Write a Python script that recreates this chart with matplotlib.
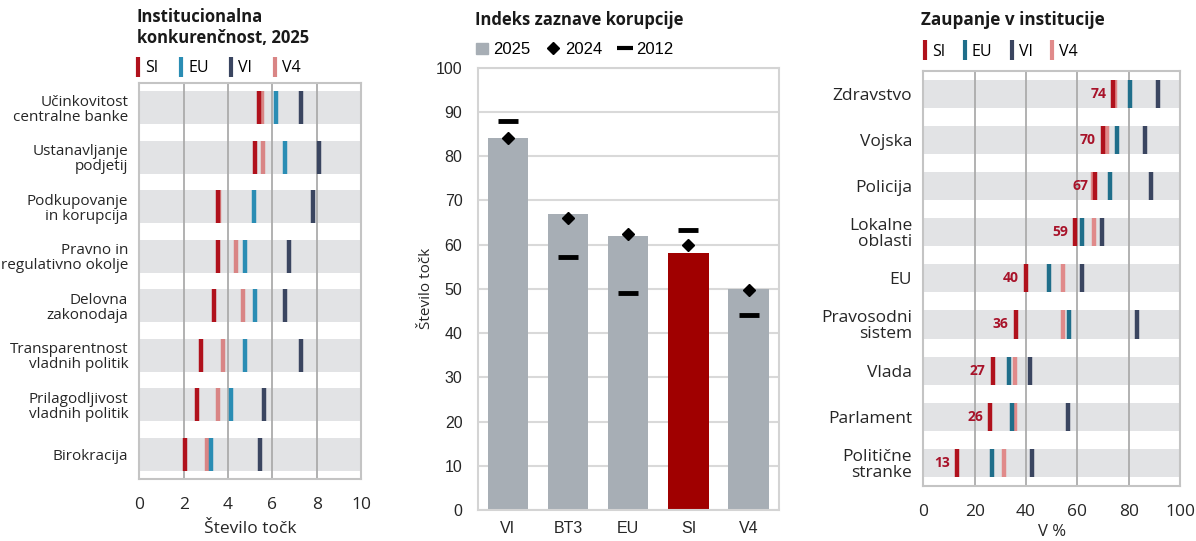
import numpy as np
import matplotlib
matplotlib.use("Agg")
import matplotlib.pyplot as plt
from matplotlib.lines import Line2D
from matplotlib.patches import Patch

# data - left panel (institucionalna konkurencnost)
inst_cats = ["Učinkovitost\ncentralne banke", "Ustanavljanje\npodjetij",
             "Podkupovanje\nin korupcija", "Pravno in\nregulativno okolje",
             "Delovna\nzakonodaja", "Transparentnost\nvladnih politik",
             "Prilagodljivost\nvladnih politik", "Birokracija"]
inst_si = [5.38, 5.23, 3.57, 3.54, 3.36, 2.78, 2.61, 2.04]
inst_eu = [6.16, 6.58, 5.18, 4.76, 5.21, 4.76, 4.14, 3.24]
inst_vi = [7.28, 8.11, 7.85, 6.73, 6.56, 7.27, 5.63, 5.42]
inst_v4 = [5.54, 5.56, 3.60, 4.35, 4.67, 3.77, 3.57, 3.03]

# data - middle panel (indeks zaznave korupcije)
cpi_cats = ["VI", "BT3", "EU", "SI", "V4"]
cpi_2025 = [84, 67, 62, 58, 50]
cpi_2024 = [84, 66, 62.4, 60, 49.8]
cpi_2012 = [88, 57.3, 49, 63.2, 44]

# data - right panel (zaupanje v institucije)
trust_cats = ["Zdravstvo", "Vojska", "Policija", "Lokalne\noblasti", "EU",
              "Pravosodni\nsistem", "Vlada", "Parlament", "Politične\nstranke"]
trust_si = [74, 70, 67, 59, 40, 36, 27, 26, 13]
trust_eu = [80.5, 75.5, 72.6, 61.7, 48.8, 56.7, 33.5, 34.6, 26.7]
trust_vi = [91.4, 86.2, 88.6, 69.6, 61.7, 83.4, 41.5, 56.5, 42.5]
trust_v4 = [74.6, 71.6, 66.1, 66.4, 54.5, 54.3, 35.8, 35.8, 31.6]

FONT = "Open Sans"
plt.rcParams['font.family'] = [FONT, 'DejaVu Sans']
TXT = '#262626'
FRAME = '#C4C4C4'

fig = plt.figure(figsize=(11.96, 5.41), dpi=100)


def style_frame(ax):
    for s in ax.spines.values():
        s.set_color(FRAME)
        s.set_linewidth(1.5)
    ax.tick_params(length=0, colors=TXT)


# strip chart with grey row bands and short vertical markers
def strip_panel(ax, cats, series, xmax, band_h, tick_size):
    ys = np.arange(len(cats))
    ax.barh(ys, xmax, height=band_h, color='#E2E3E5', zorder=0)
    for vals, col in series:
        ax.vlines(vals, ys - band_h / 2, ys + band_h / 2, colors=col, lw=3.2, zorder=3)
    ax.set_xlim(0, xmax)
    ax.set_ylim(len(cats) - 0.5, -0.5)
    ax.set_yticks(ys)
    ax.set_yticklabels(cats, fontsize=tick_size, ha='right', linespacing=1.0)
    ax.grid(axis='x', color='#ABABAB', lw=1.3)
    style_frame(ax)
    ax.tick_params(axis='y', pad=8)
    ax.tick_params(axis='x', pad=13, labelsize=12.5)


def bar_legend(ax, labels, colors, x, y, spacing):
    handles = [Line2D([], [], color=c, marker='|', linestyle='none',
                      markersize=14, markeredgewidth=3) for c in colors]
    ax.legend(handles, labels, loc='center left', bbox_to_anchor=(x, y),
              bbox_transform=fig.transFigure, ncol=len(labels), frameon=False,
              handlelength=0.4, handletextpad=0.25, columnspacing=spacing,
              borderpad=0, borderaxespad=0, fontsize=11.5)


# left panel
ax1 = fig.add_axes([0.1165, 0.1146, 0.1854, 0.732])
c_si, c_eu, c_vi, c_v4 = '#B0111C', '#2A8DB4', '#3A4560', '#D98585'
strip_panel(ax1, inst_cats, [(inst_v4, c_v4), (inst_si, c_si), (inst_eu, c_eu), (inst_vi, c_vi)],
            10, 0.66, 11)
ax1.set_xticks([0, 2, 4, 6, 8, 10])
ax1.set_xlabel("Število točk", fontsize=12.5, color=TXT, labelpad=6)
fig.text(0.1145, 0.985, "Institucionalna\nkonkurenčnost, 2025", fontsize=12,
         fontweight='bold', va='top', ha='left', color='#1A1A1A', linespacing=1.2)
bar_legend(ax1, ["SI", "EU", "VI", "V4"], [c_si, c_eu, c_vi, c_v4], 0.113, 0.874, 1.2)

# middle panel
ax2 = fig.add_axes([0.3994, 0.0573, 0.2517, 0.8176])
xs = np.arange(len(cpi_cats))
bar_cols = ['#A00000' if c == "SI" else '#A7AEB5' for c in cpi_cats]
ax2.bar(xs, cpi_2025, width=0.67, color=bar_cols, zorder=2)
ax2.plot(xs, cpi_2024, linestyle='none', marker='D', markersize=6.5, color='black', zorder=4)
ax2.hlines(cpi_2012, xs - 0.165, xs + 0.165, colors='black', lw=3.5, zorder=4)
ax2.set_xlim(-0.5, len(cpi_cats) - 0.5)
ax2.set_ylim(0, 100)
ax2.set_yticks(range(0, 101, 10))
ax2.set_xticks(xs)
ax2.set_xticklabels(cpi_cats)
ax2.grid(axis='y', color='#D9D9D9', lw=1.5, zorder=0)
ax2.set_axisbelow(True)
style_frame(ax2)
for s in ax2.spines.values():
    s.set_color('#D4D4D4')
for lab in ax2.get_xticklabels() + ax2.get_yticklabels():
    lab.set_fontfamily(['Liberation Sans', 'DejaVu Sans'])
    lab.set_fontsize(11.5)
ax2.tick_params(axis='x', pad=8)
ax2.tick_params(axis='y', pad=11)
ax2.set_ylabel("Število točk", fontsize=11, color=TXT, labelpad=1)
fig.text(0.397, 0.98, "Indeks zaznave korupcije", fontsize=12,
         fontweight='bold', va='top', ha='left', color='#1A1A1A')
leg_h = [Patch(color='#A7AEB5'),
         Line2D([], [], color='black', marker='D', linestyle='none', markersize=6),
         Line2D([], [], color='black', marker='_', linestyle='none', markersize=12, markeredgewidth=3)]
ax2.legend(leg_h, ["2025", "2024", "2012"], loc='center left', bbox_to_anchor=(0.398, 0.908),
           bbox_transform=fig.transFigure, ncol=3, frameon=False, handlelength=0.7,
           handleheight=0.7, handletextpad=0.35, columnspacing=1.0, borderpad=0,
           borderaxespad=0, prop={'family': ['Liberation Sans'], 'size': 12})

# right panel
ax3 = fig.add_axes([0.772, 0.1017, 0.2146, 0.7677])
r_si, r_eu, r_vi, r_v4 = '#B0111C', '#1F6E8A', '#3A4560', '#E08A8A'
strip_panel(ax3, trust_cats, [(trust_v4, r_v4), (trust_si, r_si), (trust_eu, r_eu), (trust_vi, r_vi)],
            100, 0.61, 12.5)
ax3.set_xticks(range(0, 101, 20))
ax3.set_xlabel("V %", fontsize=12, color=TXT, labelpad=3)
for i, v in enumerate(trust_si):
    ax3.annotate(f"{v:.0f}", (v, i), xytext=(-5, 0), textcoords='offset points',
                 ha='right', va='center', fontsize=10, fontweight='bold', color='#A8132A', zorder=5)
fig.text(0.770, 0.98, "Zaupanje v institucije", fontsize=12.3,
         fontweight='bold', va='top', ha='left', color='#1A1A1A')
bar_legend(ax3, ["SI", "EU", "VI", "V4"], [r_si, r_eu, r_vi, r_v4], 0.771, 0.904, 1.0)

fig.savefig("out.png", dpi=100)
